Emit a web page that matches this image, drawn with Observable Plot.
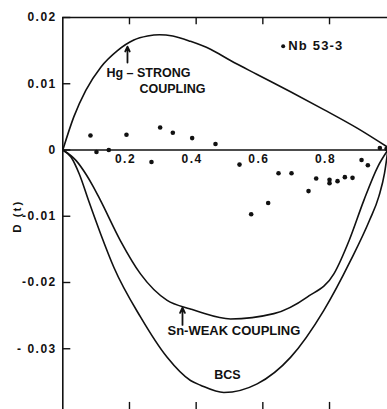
<!DOCTYPE html>
<html>
<head>
<meta charset="utf-8">
<script src="https://cdn.jsdelivr.net/npm/d3@7"></script>
<script src="https://cdn.jsdelivr.net/npm/@observablehq/plot@0.6"></script>
<style>
  html, body { margin: 0; padding: 0; background: #fff; overflow: hidden; }
  #chart svg { overflow: hidden; display: block; }
  g[aria-description="tick-labels"] text { letter-spacing: 1.5px; }
  g[aria-description="legend"] text { letter-spacing: 1.2px; }
  g[aria-description="axis-title"] text { letter-spacing: 2px; }
</style>
</head>
<body>
<div id="chart"></div>
<script>
// Deviation function D(t) against reduced temperature t

// Hg – strong coupling curve
const hgT = [0, 0.033, 0.069, 0.114, 0.164, 0.213, 0.254, 0.29, 0.33, 0.383, 0.443, 0.503, 0.583, 0.683, 0.783, 0.883, 0.975];
const hgD = [0, 0.0050, 0.0090, 0.0125, 0.0150, 0.0166, 0.0172, 0.0174, 0.0172, 0.0164, 0.0152, 0.0135, 0.0114, 0.0088, 0.0061, 0.0033, 0.0004];

// Sn – weak coupling curve
const snT = [0, 0.04, 0.07, 0.09, 0.113, 0.173, 0.233, 0.313, 0.383, 0.413, 0.503, 0.633, 0.733, 0.813, 0.86, 0.903, 0.945, 0.975];
const snD = [0, -0.0016, -0.0037, -0.0054, -0.0076, -0.0137, -0.0187, -0.0227, -0.0240, -0.0245, -0.0255, -0.0247, -0.0222, -0.0187, -0.0135, -0.0076, -0.0025, 0];

// BCS curve
const bcsT = [0, 0.025, 0.05, 0.077, 0.113, 0.153, 0.233, 0.313, 0.383, 0.413, 0.483, 0.583, 0.683, 0.783, 0.863, 0.92, 0.948, 0.965, 0.975];
const bcsD = [0, -0.0011, -0.0037, -0.0076, -0.0126, -0.0177, -0.0252, -0.0313, -0.0348, -0.0355, -0.0366, -0.0353, -0.0313, -0.0242, -0.0167, -0.0106, -0.0070, -0.0035, 0];

// Nb 53-3 measurements
const nbT = [0.083, 0.101, 0.138, 0.191, 0.266, 0.292, 0.330, 0.388, 0.458, 0.530, 0.565, 0.616, 0.647, 0.686, 0.737, 0.760, 0.800, 0.800, 0.824, 0.846, 0.869, 0.896, 0.915, 0.951, 0.971];
const nbD = [0.0022, -0.0003, 0.0000, 0.0023, -0.0018, 0.0034, 0.0026, 0.0018, 0.0009, -0.0022, -0.0097, -0.0080, -0.0035, -0.0035, -0.0062, -0.0043, -0.0045, -0.0050, -0.0047, -0.0041, -0.0042, -0.0015, -0.0023, 0.0003, 0.0002];

// Axis ticks
const xTicks = [0.2, 0.4, 0.6, 0.8];
const xTickLabels = ["0.2", "0.4", "0.6", "0.8"];
const yTicks = [0.02, 0.01, 0, -0.01, -0.02, -0.03];
const yTickLabels = ["0.02", "0.01", "0", "-0.01", "-0.02", "- 0.03"];

const toRows = (ts, ds) => ts.map((t, i) => ({t, d: ds[i]}));
const hg = toRows(hgT, hgD);
const sn = toRows(snT, snD);
const bcs = toRows(bcsT, bcsD);
const nb = toRows(nbT, nbD);

const ink = "#111";
const font = "'Liberation Sans', Arial, sans-serif";
const lineOpts = {x: "t", y: "d", curve: "monotone-x", stroke: ink, strokeWidth: 1.6};

const chart = Plot.plot({
  width: 387,
  height: 409,
  margin: 0,
  style: {background: "#fff", fontFamily: font, color: ink, overflow: "hidden"},
  x: {domain: [0, 1], range: [62.3, 395.7], axis: null},
  y: {domain: [-0.04, 0.02], range: [414.5, 17], axis: null},
  marks: [
    // frame: left axis, top edge, zero line
    Plot.ruleX([0], {y1: -0.04, y2: 0.02, stroke: ink, strokeWidth: 1.6}),
    Plot.ruleY([0.02], {x1: 0, x2: 1, stroke: ink, strokeWidth: 1.6}),
    Plot.ruleY([0], {x1: 0, x2: 1, stroke: ink, strokeWidth: 1.4}),

    // inward tick marks
    Plot.ruleY(yTicks, {y: d => d, x1: 0, x2: 0.024, stroke: ink, strokeWidth: 1.4}),
    Plot.ruleX(xTicks, {x: d => d, y1: 0.02, y2: 0.0189, stroke: ink, strokeWidth: 1.4}),
    Plot.ruleX(xTicks, {x: d => d, y1: -0.04, y2: -0.0381, stroke: ink, strokeWidth: 1.4}),

    // tick labels
    Plot.text(yTicks, {
      x: 0, y: d => d, text: (d, i) => yTickLabels[i],
      textAnchor: "end", dx: -6, fontSize: 12, fontWeight: "bold", fill: ink,
      ariaDescription: "tick-labels"
    }),
    Plot.text(xTicks, {
      x: d => d, y: 0, text: (d, i) => xTickLabels[i],
      dx: -4, dy: 9, fontSize: 12, fontWeight: "bold", fill: ink,
      ariaDescription: "tick-labels"
    }),

    // y-axis title
    Plot.text(["D (t)"], {
      x: -0.136, y: -0.0100, text: d => d, rotate: -90,
      fontSize: 11.5, fontWeight: "bold", fill: ink,
      ariaDescription: "axis-title"
    }),

    // theory curves
    Plot.line(hg, lineOpts),
    Plot.line(sn, lineOpts),
    Plot.line(bcs, lineOpts),

    // measured points
    Plot.dot(nb, {x: "t", y: "d", r: 2.3, fill: ink, stroke: "none"}),

    // legend for the measurements
    Plot.dot([{t: 0.661, d: 0.01567}], {x: "t", y: "d", r: 2, fill: ink, stroke: "none"}),
    Plot.text([{t: 0.661, d: 0.01567, s: "Nb 53-3"}], {
      x: "t", y: "d", text: "s", dx: 5, textAnchor: "start",
      fontSize: 13, fontWeight: "bold", fill: ink, ariaDescription: "legend"
    }),

    // curve annotations
    Plot.arrow([{x1: 0.194, y1: 0.0132, x2: 0.194, y2: 0.0156}], {
      x1: "x1", y1: "y1", x2: "x2", y2: "y2",
      stroke: ink, strokeWidth: 1.8, headLength: 6, headAngle: 50
    }),
    Plot.text([
      {t: 0.131, d: 0.01162, s: "Hg – STRONG"},
      {t: 0.230, d: 0.00928, s: "COUPLING"}
    ], {x: "t", y: "d", text: "s", textAnchor: "start", fontSize: 12.5, fontWeight: "bold", fill: ink}),

    Plot.arrow([{x1: 0.359, y1: -0.0264, x2: 0.359, y2: -0.0238}], {
      x1: "x1", y1: "y1", x2: "x2", y2: "y2",
      stroke: ink, strokeWidth: 1.8, headLength: 6, headAngle: 50
    }),
    Plot.text([{t: 0.314, d: -0.02725, s: "Sn-WEAK COUPLING"}], {
      x: "t", y: "d", text: "s", textAnchor: "start", fontSize: 13, fontWeight: "bold", fill: ink
    }),
    Plot.text([{t: 0.494, d: -0.0339, s: "BCS"}], {
      x: "t", y: "d", text: "s", fontSize: 12.5, fontWeight: "bold", fill: ink
    })
  ]
});

document.getElementById("chart").append(chart);
</script>
</body>
</html>
